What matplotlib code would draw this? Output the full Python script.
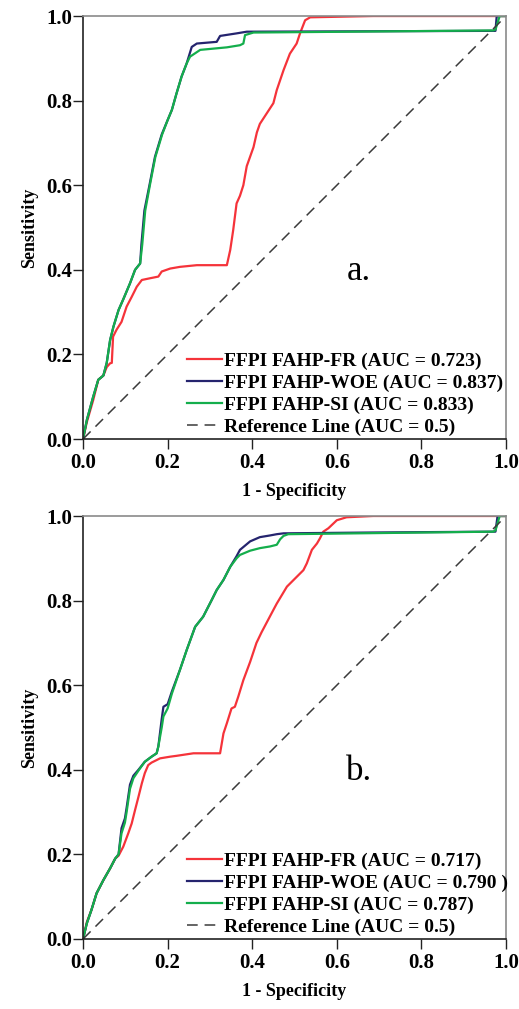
import matplotlib
matplotlib.use("Agg")
import matplotlib.pyplot as plt
from matplotlib.ticker import FormatStrFormatter

plt.rcParams['font.family'] = ['Liberation Serif', 'DejaVu Serif']

# ---------------- data: panel a ----------------
a_fr_x = [0, 0.009, 0.024, 0.036, 0.048, 0.056, 0.064, 0.068, 0.071, 0.079, 0.091, 0.103, 0.115, 0.127,
          0.139, 0.158, 0.178, 0.186, 0.206, 0.229, 0.269, 0.340, 0.348, 0.355, 0.363, 0.371, 0.379,
          0.387, 0.403, 0.411, 0.418, 0.450, 0.458, 0.474, 0.489, 0.505, 0.513, 0.525, 0.537, 0.686, 1.0]
a_fr_y = [0, 0.040, 0.092, 0.140, 0.150, 0.170, 0.179, 0.180, 0.242, 0.258, 0.277, 0.313, 0.336, 0.360,
          0.376, 0.380, 0.384, 0.396, 0.403, 0.407, 0.411, 0.411, 0.447, 0.494, 0.557, 0.575, 0.600,
          0.645, 0.690, 0.725, 0.745, 0.794, 0.825, 0.872, 0.911, 0.935, 0.959, 0.990, 0.997, 1.0, 1.0]

a_woe_x = [0, 0.009, 0.024, 0.036, 0.048, 0.056, 0.064, 0.072, 0.084, 0.095, 0.111, 0.123, 0.131, 0.135,
           0.138, 0.145, 0.157, 0.170, 0.186, 0.200, 0.210, 0.221, 0.233, 0.245, 0.257, 0.269, 0.316,
           0.324, 0.363, 0.387, 0.975, 0.978, 1.0]
a_woe_y = [0, 0.045, 0.100, 0.140, 0.150, 0.180, 0.234, 0.266, 0.305, 0.330, 0.368, 0.400, 0.410, 0.415,
           0.460, 0.540, 0.600, 0.667, 0.720, 0.754, 0.778, 0.817, 0.857, 0.888, 0.927, 0.935, 0.939,
           0.953, 0.959, 0.963, 0.965, 1.0, 1.0]

a_si_x = [0, 0.009, 0.024, 0.036, 0.048, 0.056, 0.064, 0.072, 0.084, 0.095, 0.111, 0.123, 0.131, 0.135,
          0.140, 0.147, 0.158, 0.171, 0.187, 0.200, 0.210, 0.221, 0.233, 0.245, 0.253, 0.265, 0.277,
          0.340, 0.371, 0.379, 0.383, 0.403, 0.970, 0.975, 0.985, 1.0]
a_si_y = [0, 0.045, 0.100, 0.140, 0.150, 0.180, 0.234, 0.266, 0.305, 0.330, 0.368, 0.400, 0.410, 0.415,
          0.460, 0.540, 0.600, 0.667, 0.720, 0.754, 0.778, 0.817, 0.857, 0.888, 0.904, 0.912, 0.920,
          0.926, 0.931, 0.935, 0.955, 0.961, 0.966, 0.968, 1.0, 1.0]

# ---------------- data: panel b ----------------
b_fr_x = [0, 0.009, 0.020, 0.032, 0.048, 0.064, 0.076, 0.084, 0.095, 0.107, 0.115, 0.123, 0.131, 0.139,
          0.146, 0.154, 0.162, 0.182, 0.206, 0.221, 0.261, 0.324, 0.332, 0.340, 0.351, 0.359, 0.367,
          0.379, 0.395, 0.410, 0.422, 0.450, 0.458, 0.482, 0.505, 0.521, 0.529, 0.541, 0.553, 0.560,
          0.568, 0.580, 0.600, 0.623, 0.686, 1.0]
b_fr_y = [0, 0.040, 0.069, 0.108, 0.139, 0.167, 0.190, 0.197, 0.218, 0.250, 0.273, 0.305, 0.336, 0.368,
          0.392, 0.411, 0.417, 0.427, 0.431, 0.433, 0.439, 0.439, 0.486, 0.510, 0.545, 0.549, 0.573,
          0.612, 0.655, 0.700, 0.725, 0.778, 0.793, 0.833, 0.856, 0.872, 0.888, 0.920, 0.935, 0.947,
          0.963, 0.971, 0.990, 0.997, 1.0, 1.0]

b_woe_x = [0, 0.009, 0.020, 0.032, 0.048, 0.064, 0.076, 0.084, 0.091, 0.099, 0.103, 0.111, 0.119, 0.131,
           0.146, 0.162, 0.174, 0.178, 0.186, 0.190, 0.200, 0.210, 0.229, 0.245, 0.265, 0.284, 0.304,
           0.316, 0.332, 0.348, 0.363, 0.371, 0.395, 0.418, 0.442, 0.458, 0.474, 0.686, 0.975, 0.980, 1.0]
b_woe_y = [0, 0.037, 0.069, 0.108, 0.139, 0.167, 0.190, 0.200, 0.262, 0.285, 0.310, 0.365, 0.386, 0.400,
           0.419, 0.431, 0.439, 0.455, 0.520, 0.549, 0.555, 0.585, 0.636, 0.683, 0.738, 0.762, 0.801,
           0.825, 0.849, 0.880, 0.905, 0.920, 0.940, 0.950, 0.954, 0.957, 0.959, 0.961, 0.963, 1.0, 1.0]

b_si_x = [0, 0.009, 0.020, 0.032, 0.048, 0.064, 0.076, 0.084, 0.091, 0.099, 0.103, 0.111, 0.119, 0.131,
          0.146, 0.162, 0.174, 0.178, 0.186, 0.190, 0.200, 0.210, 0.229, 0.245, 0.265, 0.284, 0.304,
          0.316, 0.332, 0.348, 0.363, 0.371, 0.395, 0.418, 0.442, 0.458, 0.466, 0.474, 0.485, 0.970,
          0.975, 0.985, 1.0]
b_si_y = [0, 0.037, 0.069, 0.108, 0.139, 0.167, 0.190, 0.200, 0.250, 0.275, 0.300, 0.355, 0.380, 0.398,
          0.419, 0.431, 0.439, 0.455, 0.500, 0.526, 0.545, 0.580, 0.636, 0.683, 0.738, 0.762, 0.801,
          0.825, 0.849, 0.880, 0.900, 0.908, 0.918, 0.924, 0.928, 0.932, 0.945, 0.953, 0.957, 0.963,
          0.966, 1.0, 1.0]

ref_x = [0.0, 1.0]
ref_y = [0.0, 1.0]

a_labels = ["FFPI FAHP-FR (AUC = 0.723)", "FFPI FAHP-WOE (AUC = 0.837)",
            "FFPI FAHP-SI (AUC = 0.833)", "Reference Line (AUC = 0.5)"]
b_labels = ["FFPI FAHP-FR (AUC = 0.717)", "FFPI FAHP-WOE (AUC = 0.790 )",
            "FFPI FAHP-SI (AUC = 0.787)", "Reference Line (AUC = 0.5)"]
panel_tags = ["a.", "b."]
ticks = [0.0, 0.2, 0.4, 0.6, 0.8, 1.0]

RED = '#F5333A'
BLUE = '#25246E'
GREEN = '#14AE4C'
REFC = '#3a3a3a'

fig = plt.figure(figsize=(5.19, 10.09), dpi=100)
ax_a = fig.add_axes([0.160, 0.5649, 0.815, 0.4192])
ax_b = fig.add_axes([0.160, 0.0694, 0.815, 0.4192])

panels = [
    (ax_a, a_fr_x, a_fr_y, a_woe_x, a_woe_y, a_si_x, a_si_y, a_labels, panel_tags[0]),
    (ax_b, b_fr_x, b_fr_y, b_woe_x, b_woe_y, b_si_x, b_si_y, b_labels, panel_tags[1]),
]

for ax, frx, fry, wx, wy, sx, sy, labels, tag in panels:
    h1, = ax.plot(frx, fry, color=RED, lw=1.6, label=labels[0])
    h2, = ax.plot(wx, wy, color=BLUE, lw=1.6, label=labels[1])
    h3, = ax.plot(sx, sy, color=GREEN, lw=1.6, label=labels[2])
    h4, = ax.plot(ref_x, ref_y, color=REFC, lw=1.1, ls=(0, (7, 4.5)), label=labels[3])
    ax.set_xlim(0, 1)
    ax.set_ylim(0, 1)
    ax.set_xticks(ticks)
    ax.set_yticks(ticks)
    ax.xaxis.set_major_formatter(FormatStrFormatter('%.1f'))
    ax.yaxis.set_major_formatter(FormatStrFormatter('%.1f'))
    ax.tick_params(axis='both', direction='out', length=7, width=1.0, labelsize=15, color='#222222')
    ax.tick_params(axis='y', pad=1)
    ax.tick_params(axis='x', pad=3)
    for lab in ax.get_xticklabels() + ax.get_yticklabels():
        lab.set_fontweight('bold')
    for s in ['left', 'bottom']:
        ax.spines[s].set_color('#222222')
        ax.spines[s].set_linewidth(1.2)
    for s in ['top', 'right']:
        ax.spines[s].set_color('#8a8a8a')
        ax.spines[s].set_linewidth(1.2)
    ax.set_xlabel('1 - Specificity', fontsize=13, fontweight='bold', labelpad=7)
    ax.set_ylabel('Sensitivity', fontsize=13, fontweight='bold', labelpad=6)
    ax.text(0.652, 0.375, tag, fontsize=25, ha='center', va='baseline', transform=ax.transAxes)
    ax.legend(handles=[h1, h2, h3, h4], loc='lower left', bbox_to_anchor=(0.245, 0.008),
              frameon=False, borderpad=0, borderaxespad=0, handlelength=1.8, handletextpad=0.1,
              labelspacing=0.22, prop={'size': 14, 'weight': 'bold', 'family': 'Liberation Serif'})

fig.savefig('out.png', dpi=100)
